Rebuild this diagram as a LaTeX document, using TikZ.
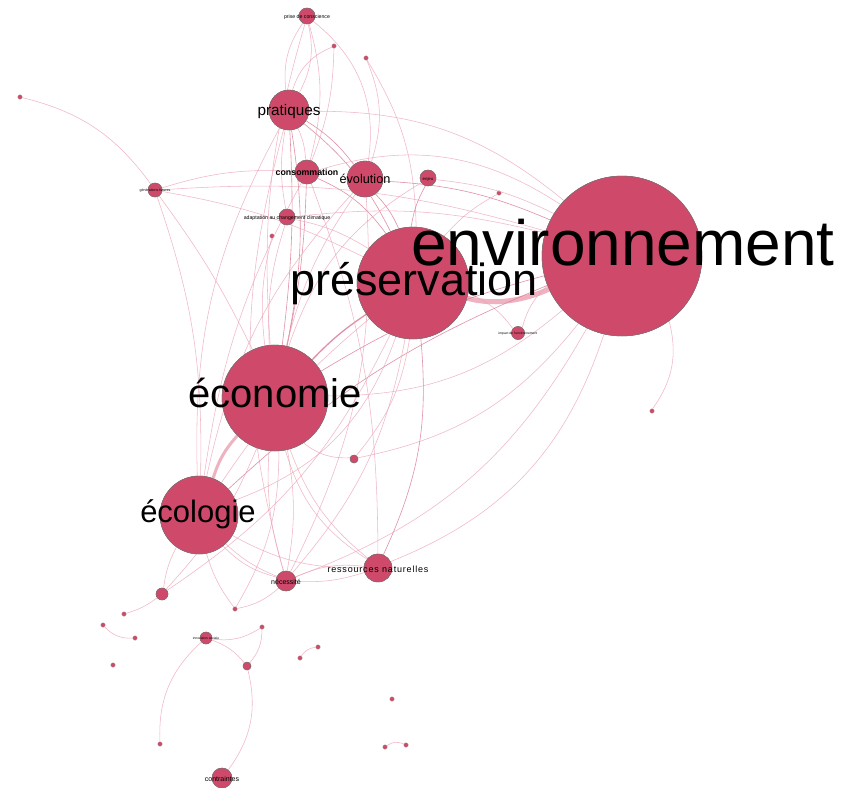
\documentclass[tikz,border=0pt]{standalone}
\usepackage{fontspec}
\setmainfont{Liberation Sans}
\definecolor{nodecol}{RGB}{207,74,106}
\definecolor{edgecol}{RGB}{236,165,182}
\definecolor{edgedark}{RGB}{218,118,145}
\begin{document}
\begin{tikzpicture}[x=1pt,y=-1pt,
  nd/.style={circle,fill=nodecol,draw=black!55,line width=0.4pt,inner sep=0pt,minimum size=#1},
  tn/.style={circle,fill=nodecol,draw=black!40,line width=0.2pt,inner sep=0pt,minimum size=4.5pt},
  e/.style={draw=edgecol,line width=0.55pt,opacity=0.8},
  ed/.style={draw=edgedark,line width=0.6pt,opacity=0.8},
  lab/.style={anchor=base,inner sep=0pt,text=black}]
\fill[white] (0,0) rectangle (842,787);
\useasboundingbox (0,0) rectangle (842,787);
% ---------- node positions ----------
\path
 (622,256) node[nd=160pt] (env) {}
 (413,283) node[nd=112pt] (pres) {}
 (275,398) node[nd=106pt] (eco) {}
 (199,515) node[nd=78pt] (ecol) {}
 (289,110) node[nd=40pt] (prat) {}
 (365,179) node[nd=36pt] (evol) {}
 (307,172) node[nd=24pt] (cons) {}
 (378,568) node[nd=28pt] (ress) {}
 (286,581) node[nd=20pt] (nec) {}
 (222,778) node[nd=20pt] (cont) {}
 (307,16) node[nd=16pt] (pdc) {}
 (287,217) node[nd=16pt] (adap) {}
 (428,178) node[nd=16pt] (enj) {}
 (155,190) node[nd=14pt] (gen) {}
 (518,333) node[nd=13pt] (imp) {}
 (206,638) node[nd=12pt] (inno) {}
 (162,594) node[nd=12pt] (s1) {}
 (247,666) node[nd=8pt] (s2) {}
 (354,459) node[nd=8pt] (s3) {}
 (20,97) node[tn] (t1) {}
 (334,46) node[tn] (t2) {}
 (366,58) node[tn] (t3) {}
 (272,236) node[tn] (t4) {}
 (499,193) node[tn] (t5) {}
 (652,411) node[tn] (t6) {}
 (124,614) node[tn] (t7) {}
 (235,609) node[tn] (t8) {}
 (103,625) node[tn] (t9) {}
 (135,638) node[tn] (t10) {}
 (262,627) node[tn] (t11) {}
 (113,665) node[tn] (t12) {}
 (318,647) node[tn] (t13) {}
 (300,658) node[tn] (t14) {}
 (392,699) node[tn] (t15) {}
 (160,744) node[tn] (t16) {}
 (385,747) node[tn] (t17) {}
 (406,745) node[tn] (t18) {};
% ---------- edges ----------
\begin{scope}
% thick edges
\draw[draw=edgecol,line width=5pt,opacity=0.85] (pres) .. controls (495,306) and (525,300) .. (env);
\draw[draw=edgecol,line width=3pt,opacity=0.85] (ecol) to[bend left=12] (eco);
\draw[draw=edgedark,line width=1.3pt,opacity=0.8] (eco) to[bend left=6] (pres);
% top
\draw[e] (pdc) to[bend right=20] (prat);
\draw[e] (pdc) to[bend left=20] (prat);
\draw[e] (pdc) to[bend left=30] (evol);
\draw[e] (pdc) to[bend left=15] (cons);
\draw[e] (pdc) to[bend right=10] (eco);
\draw[e] (t2) to[bend right=25] (prat);
\draw[e] (t2) to[bend left=10] (cons);
\draw[e] (t3) to[bend left=20] (evol);
\draw[e] (t3) to[bend left=15] (pres);
\draw[e] (prat) to[bend left=10] (cons);
\draw[ed] (prat) to[bend left=10] (evol);
\draw[ed] (prat) to[bend left=12] (pres);
\draw[e] (prat) to[bend left=20] (env);
\draw[ed] (prat) to[bend left=5] (eco);
\draw[ed] (prat) to[bend left=10] (eco);
\draw[e] (prat) to[bend right=15] (ecol);
\draw[e] (prat) to[bend right=10] (adap);
\draw[e] (prat) to[bend right=15] (nec);
\draw[e] (cons) to[bend left=25] (env);
\draw[ed] (cons) to[bend left=15] (pres);
\draw[ed] (cons) to[bend left=5] (eco);
\draw[e] (cons) to[bend right=10] (ecol);
\draw[e] (cons) to[bend left=10] (ress);
\draw[ed] (evol) to[bend left=10] (env);
\draw[ed] (evol) to[bend left=10] (pres);
\draw[e] (evol) to[bend right=10] (eco);
\draw[e] (evol) to[bend right=15] (ecol);
\draw[e] (evol) to[bend left=15] (nec);
\draw[e] (enj) to[bend left=10] (env);
\draw[ed] (enj) to[bend right=10] (pres);
\draw[e] (enj) to[bend right=20] (eco);
\draw[e] (t5) to[bend right=10] (pres);
\draw[e] (gen) to[bend right=20] (t1);
\draw[e] (gen) to[bend left=10] (env);
\draw[e] (gen) to[bend left=8] (pres);
\draw[e] (gen) to[bend left=5] (eco);
\draw[e] (gen) to[bend left=10] (ecol);
\draw[e] (gen) to[bend left=10] (cons);
\draw[e] (adap) to[bend left=10] (env);
\draw[e] (adap) to[bend left=10] (pres);
\draw[e] (adap) to[bend right=10] (eco);
\draw[e] (t4) to[bend right=10] (eco);
\draw[e] (imp) to[bend left=15] (env);
\draw[e] (imp) to[bend right=15] (pres);
\draw[e] (env) to[bend left=25] (t6);
% middle
\draw[ed] (eco) to[bend left=8] (env);
\draw[e] (eco) to[bend right=20] (env);
\draw[ed] (ecol) to[bend left=10] (env);
\draw[e] (ecol) to[bend left=8] (pres);
\draw[e] (ecol) to[bend right=25] (pres);
\draw[e] (s3) to[bend left=20] (eco);
\draw[e] (s3) to[bend right=15] (pres);
\draw[e] (s3) to[bend right=20] (env);
\draw[ed] (ress) to[bend right=15] (pres);
\draw[e] (ress) to[bend right=25] (env);
\draw[e] (ress) to[bend left=15] (eco);
\draw[e] (ress) to[bend right=15] (nec);
\draw[e] (ress) to[bend left=10] (nec);
\draw[e] (ress) to[bend left=15] (ecol);
\draw[e] (nec) to[bend left=10] (eco);
\draw[e] (nec) to[bend right=10] (eco);
\draw[e] (nec) to[bend left=10] (ecol);
\draw[e] (nec) to[bend right=15] (pres);
\draw[e] (nec) to[bend right=20] (env);
\draw[e] (nec) to[bend left=15] (t8);
\draw[e] (s1) to[bend left=10] (ecol);
\draw[e] (s1) to[bend right=10] (eco);
\draw[e] (s1) to[bend left=10] (t7);
\draw[e] (s1) to[bend right=15] (pres);
\draw[e] (t8) to[bend right=15] (eco);
\draw[e] (t8) to[bend left=10] (ecol);
\draw[e] (ecol) to[bend right=15] (nec);
\draw[e] (eco) to[bend right=20] (ress);
% bottom
\draw[e] (t9) to[bend right=25] (t10);
\draw[e] (inno) to[bend right=20] (t11);
\draw[e] (inno) to[bend left=15] (s2);
\draw[e] (inno) to[bend right=25] (t16);
\draw[e] (t11) to[bend left=20] (s2);
\draw[e] (s2) to[bend left=25] (cont);
\draw[e] (t14) to[bend left=25] (t13);
\draw[e] (t17) to[bend left=30] (t18);
\end{scope}
% redraw nodes on top of the connectors
\path
 (622,256) node[nd=160pt] {}
 (413,283) node[nd=112pt] {}
 (275,398) node[nd=106pt] {}
 (199,515) node[nd=78pt] {}
 (289,110) node[nd=40pt] {}
 (365,179) node[nd=36pt] {}
 (307,172) node[nd=24pt] {}
 (378,568) node[nd=28pt] {}
 (286,581) node[nd=20pt] {}
 (222,778) node[nd=20pt] {}
 (307,16) node[nd=16pt] {}
 (287,217) node[nd=16pt] {}
 (428,178) node[nd=16pt] {}
 (155,190) node[nd=14pt] {}
 (518,333) node[nd=13pt] {}
 (206,638) node[nd=12pt] {}
 (162,594) node[nd=12pt] {}
 (247,666) node[nd=8pt] {}
 (354,459) node[nd=8pt] {};
% ---------- labels ----------
\node[lab,font=\fontsize{64}{64}\selectfont] (lenv) at (623,265) {environnement};
\node[lab,font=\fontsize{45}{45}\selectfont] (lpres) at (414,295) {préservation};
\node[lab,font=\fontsize{40}{40}\selectfont] (leco) at (275,407) {économie};
\node[lab,font=\fontsize{31}{31}\selectfont] (lecol) at (198,522) {écologie};
\node[lab,font=\fontsize{15.3}{16}\selectfont] (lprat) at (289,115) {pratiques};
\node[lab,font=\fontsize{12.7}{13}\selectfont] (levol) at (365,183) {évolution};
\node[lab,font=\fontsize{8.8}{9}\selectfont\bfseries] (lcons) at (307,175) {consommation};
\node[lab,font=\fontsize{9}{9}\selectfont\addfontfeatures{LetterSpace=9}] (lress) at (378,572) {ressources naturelles};
\node[lab,font=\fontsize{7}{7}\selectfont] (lnec) at (286,584) {nécessité};
\node[lab,font=\fontsize{7}{7}\selectfont] (lcont) at (222,781) {contraintes};
\node[lab,font=\fontsize{5.2}{5}\selectfont] (lpdc) at (307,18) {prise de conscience};
\node[lab,font=\fontsize{5.2}{5}\selectfont] (ladap) at (287,219) {adaptation au changement climatique};
\node[lab,font=\fontsize{4.3}{4}\selectfont] (lenj) at (428,180) {enjeu};
\node[lab,font=\fontsize{3.6}{4}\selectfont] (lgen) at (155,191.5) {générations futures};
\node[lab,font=\fontsize{3.3}{3}\selectfont] (limp) at (518,334.5) {impact de l'environnement};
\node[lab,font=\fontsize{3.3}{3}\selectfont] (linno) at (206,639.5) {innovation sociale};
\end{tikzpicture}
\end{document}
